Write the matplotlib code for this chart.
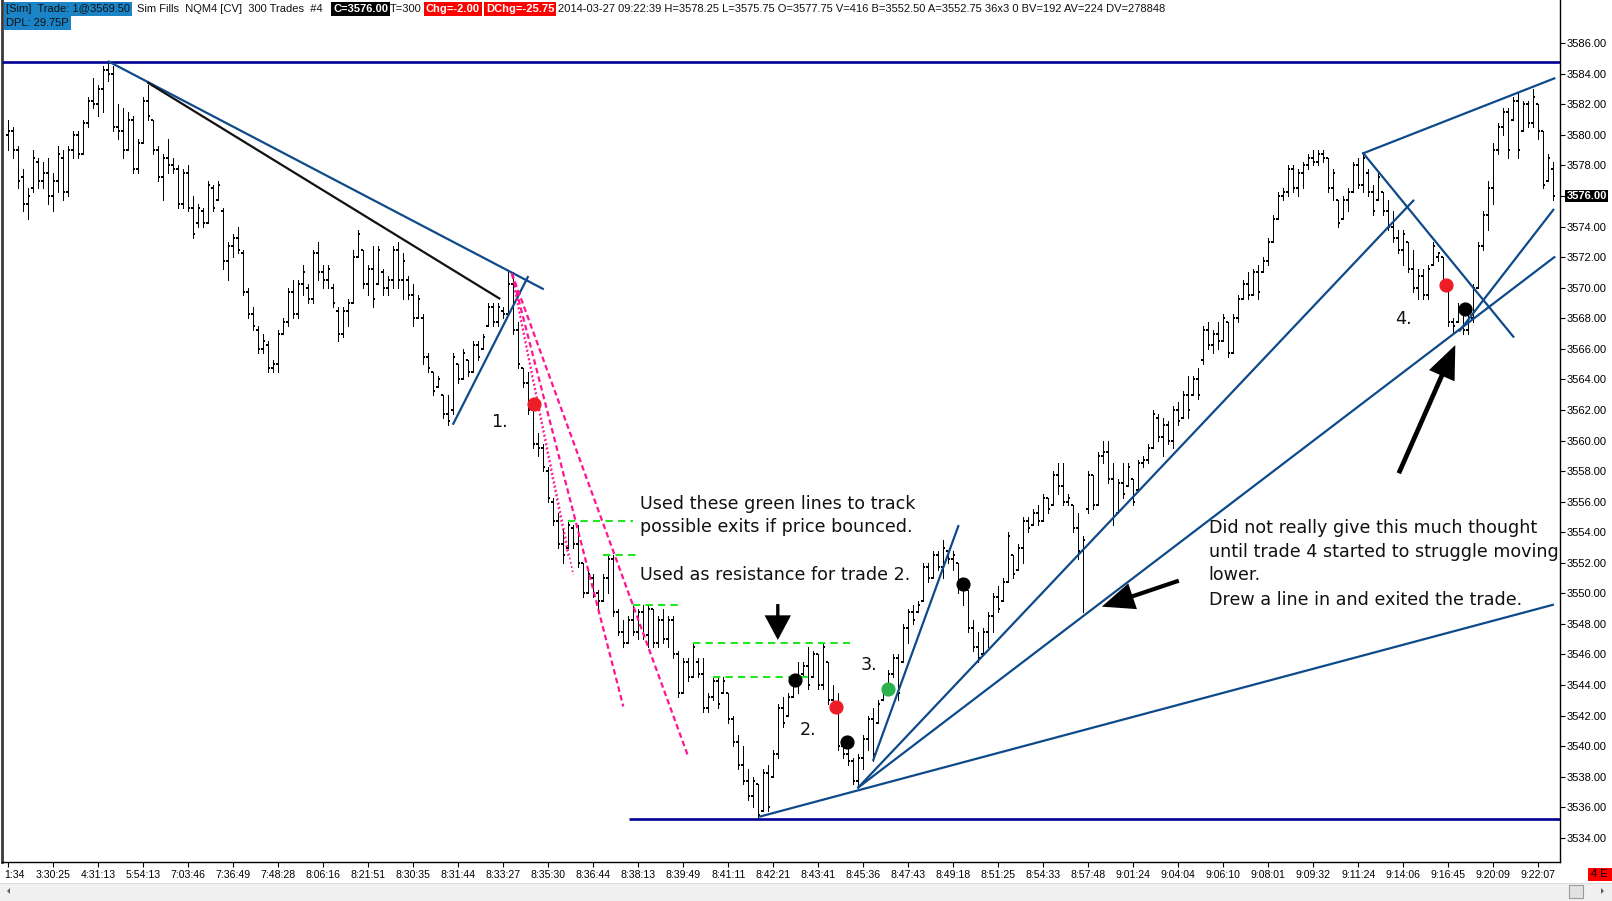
import matplotlib
matplotlib.use("Agg")
import matplotlib.pyplot as plt
from matplotlib.collections import LineCollection
from matplotlib import font_manager as fm
from matplotlib import transforms
from matplotlib.patches import Rectangle, Polygon

# ---------------- data (300-trade bars, NQM4) ----------------
highs = [
3581.0,3580.5,3579.25,3577.75,3576.5,3579.0,3578.5,3578.25,3578.5,3577.5,
3579.25,3579.0,3579.25,3580.25,3580.25,3581.0,3582.5,3583.75,3583.25,3584.5,
3584.75,3584.5,3582.0,3581.75,3581.5,3581.25,3579.75,3582.5,3583.25,3581.0,
3579.25,3578.75,3579.75,3578.5,3578.0,3577.75,3578.0,3576.0,3575.5,3575.25,
3577.0,3576.75,3577.0,3575.25,3573.0,3573.5,3574.0,3572.5,3570.0,3568.75,
3567.5,3567.0,3566.5,3565.25,3567.25,3568.0,3570.0,3570.5,3570.5,3571.5,
3570.25,3572.5,3573.0,3571.5,3571.5,3570.25,3568.75,3568.75,3569.25,3572.5,
3573.75,3572.5,3571.5,3572.75,3572.75,3571.25,3570.75,3572.75,3573.0,3572.25,
3570.75,3570.25,3569.5,3568.25,3565.75,3564.5,3564.25,3563.0,3563.0,3565.75,
3565.0,3566.0,3565.25,3566.5,3566.5,3567.0,3569.0,3569.0,3569.0,3568.75,
3571.0,3571.0,3567.75,3564.75,3564.5,3562.25,3560.5,3559.75,3558.25,3556.25,
3555.25,3554.25,3554.75,3554.5,3554.5,3552.0,3551.5,3551.25,3550.25,3551.25,
3552.5,3552.5,3549.0,3548.25,3548.5,3549.25,3549.0,3549.25,3549.25,3549.0,
3548.5,3549.0,3548.5,3548.5,3546.25,3545.75,3545.75,3546.75,3545.75,3545.75,
3543.5,3544.5,3544.5,3544.5,3543.5,3542.0,3540.75,3540.0,3538.5,3538.0,
3537.5,3538.5,3538.75,3539.75,3542.75,3543.25,3543.5,3544.75,3545.5,3545.5,
3546.5,3546.25,3546.0,3546.75,3545.5,3544.0,3543.5,3540.25,3540.0,3539.25,
3539.5,3540.75,3542.0,3542.5,3543.0,3544.0,3545.0,3546.0,3546.0,3548.0,
3549.0,3549.25,3549.5,3552.0,3552.0,3552.75,3552.75,3553.5,3552.75,3552.75,
3552.0,3551.0,3550.25,3548.25,3547.5,3547.75,3548.75,3550.0,3550.5,3551.0,
3554.0,3552.5,3553.25,3555.0,3555.0,3555.5,3555.75,3556.5,3556.25,3558.0,
3558.5,3558.5,3556.5,3555.75,3555.25,3553.75,3558.0,3557.75,3559.25,3560.0,
3560.0,3558.5,3557.5,3558.5,3558.5,3557.5,3558.75,3559.0,3559.75,3562.0,
3561.75,3561.5,3561.25,3562.25,3562.5,3563.25,3564.25,3564.25,3564.75,3567.5,
3567.75,3567.25,3567.75,3568.25,3567.75,3568.25,3569.5,3570.5,3571.0,3571.25,
3571.5,3572.0,3573.25,3574.75,3576.25,3576.5,3578.0,3578.0,3577.75,3578.25,
3578.75,3579.0,3579.0,3579.0,3578.5,3577.75,3575.75,3576.0,3576.5,3578.25,
3578.5,3578.75,3577.75,3576.75,3577.5,3576.25,3575.75,3575.0,3573.75,3573.75,
3573.0,3572.5,3571.25,3571.25,3571.5,3573.0,3572.25,3572.0,3570.0,3568.0,
3569.0,3569.0,3568.25,3570.25,3573.0,3575.0,3577.0,3579.5,3580.75,3581.75,
3581.75,3582.5,3582.75,3582.25,3582.25,3583.0,3582.0,3580.25,3578.75,3578.25]

lows = [
3579.0,3578.5,3576.5,3575.0,3574.5,3576.25,3576.5,3576.5,3575.5,3575.0,
3576.25,3575.75,3576.0,3578.5,3578.5,3578.75,3580.5,3581.75,3581.25,3581.5,
3583.5,3580.25,3579.75,3578.5,3579.0,3577.5,3577.5,3579.5,3581.0,3578.75,
3577.0,3575.75,3577.5,3577.5,3575.25,3575.25,3575.0,3573.25,3574.0,3574.0,
3574.25,3575.0,3575.75,3571.25,3570.5,3572.0,3572.25,3569.5,3568.0,3567.25,
3565.75,3565.75,3564.5,3564.5,3564.5,3567.0,3567.5,3568.0,3568.0,3569.5,
3569.0,3569.0,3570.5,3570.0,3570.0,3568.75,3566.5,3566.75,3567.5,3569.0,
3572.0,3570.0,3569.5,3568.75,3570.25,3569.5,3569.5,3570.0,3570.0,3569.25,
3569.25,3567.5,3568.0,3565.0,3564.5,3563.0,3563.5,3561.5,3561.0,3561.75,
3563.75,3564.0,3564.25,3564.5,3565.25,3566.0,3567.5,3567.5,3567.5,3568.0,
3568.25,3567.0,3564.75,3563.5,3561.75,3559.5,3559.0,3558.0,3556.0,3554.5,
3553.0,3552.0,3553.0,3553.0,3551.75,3549.75,3550.0,3549.75,3549.0,3549.5,
3550.0,3548.5,3547.25,3546.5,3546.75,3547.25,3547.0,3547.0,3546.5,3546.5,
3546.5,3546.75,3546.5,3545.75,3543.25,3543.5,3544.25,3544.5,3544.5,3542.25,
3542.25,3543.0,3542.5,3543.5,3541.5,3540.0,3538.5,3537.5,3536.5,3536.0,
3535.25,3535.75,3535.75,3538.0,3539.25,3541.25,3542.0,3543.25,3543.5,3544.5,
3543.75,3544.5,3543.75,3543.75,3542.75,3542.25,3539.75,3539.25,3538.75,3537.5,
3537.25,3538.5,3539.75,3539.0,3541.5,3543.0,3543.75,3544.5,3543.0,3545.5,
3546.75,3548.0,3548.75,3549.5,3550.75,3551.0,3551.5,3551.0,3552.0,3551.5,
3550.0,3549.25,3547.5,3546.25,3545.5,3546.0,3546.5,3547.5,3548.75,3549.5,
3550.75,3551.0,3551.5,3552.0,3554.0,3554.5,3554.5,3554.75,3555.25,3555.75,
3556.5,3555.75,3555.75,3554.0,3552.25,3548.75,3555.25,3555.5,3555.75,3558.5,
3557.25,3554.5,3555.25,3556.25,3557.0,3555.75,3556.75,3558.25,3558.5,3559.5,
3560.0,3559.0,3559.75,3559.5,3561.0,3561.5,3561.5,3563.0,3562.75,3565.0,
3566.0,3565.75,3566.0,3566.5,3565.5,3565.75,3567.75,3569.25,3569.25,3569.5,
3569.25,3571.0,3571.5,3573.0,3574.5,3575.75,3576.0,3576.25,3576.0,3576.5,
3577.75,3578.0,3578.0,3578.25,3576.25,3575.75,3574.0,3574.5,3575.0,3576.25,
3576.5,3576.25,3576.0,3574.75,3575.75,3574.75,3573.75,3573.0,3572.25,3571.5,
3571.0,3569.75,3569.25,3569.25,3569.25,3571.5,3571.75,3570.0,3567.5,3567.0,
3567.75,3567.0,3567.0,3567.75,3570.0,3572.5,3573.75,3575.5,3578.75,3580.0,
3578.5,3581.0,3578.5,3580.25,3580.5,3580.5,3579.75,3576.5,3577.0,3575.75]

opens = [
3580.0,3580.25,3579.0,3577.25,3575.5,3576.5,3578.25,3577.0,3577.5,3576.0,
3577.0,3578.5,3576.25,3579.0,3580.0,3578.75,3580.75,3582.25,3582.0,3583.0,
3584.25,3584.0,3580.5,3580.25,3579.0,3581.0,3577.75,3579.5,3582.25,3581.0,
3579.0,3577.25,3578.5,3578.0,3577.75,3575.5,3577.5,3575.25,3574.25,3575.0,
3574.25,3576.5,3575.75,3575.0,3571.75,3572.75,3573.25,3572.25,3569.75,3568.25,
3567.25,3566.0,3566.25,3564.75,3565.0,3567.0,3567.75,3569.75,3568.25,3570.25,
3570.0,3569.25,3572.25,3571.0,3570.5,3570.0,3568.5,3567.0,3568.5,3569.0,
3572.0,3572.5,3570.25,3571.25,3570.25,3571.0,3570.0,3570.5,3572.5,3570.5,
3570.5,3569.5,3568.0,3568.0,3565.5,3564.5,3563.5,3563.0,3561.75,3562.0,
3565.0,3564.0,3565.25,3564.5,3566.25,3566.0,3567.5,3568.75,3567.75,3568.5,
3568.25,3570.25,3567.25,3564.75,3563.75,3562.0,3559.75,3559.5,3558.0,3556.0,
3554.75,3553.25,3553.0,3554.25,3553.25,3552.0,3550.0,3551.0,3550.0,3549.5,
3551.0,3552.25,3548.75,3547.5,3546.75,3548.25,3547.5,3548.75,3547.25,3549.0,
3546.75,3548.25,3547.0,3548.25,3546.0,3543.5,3545.5,3544.5,3545.5,3544.75,
3542.5,3543.25,3544.25,3543.5,3543.5,3541.75,3540.25,3538.75,3537.75,3536.75,
3537.5,3535.75,3538.25,3538.0,3539.5,3542.5,3542.0,3543.25,3544.5,3544.75,
3545.25,3544.5,3546.0,3544.0,3545.5,3543.0,3542.5,3540.0,3539.5,3539.0,
3537.75,3539.25,3540.5,3541.75,3541.5,3543.0,3543.75,3544.75,3545.75,3545.5,
3547.75,3548.75,3548.75,3549.5,3551.75,3551.0,3552.5,3551.75,3552.75,3552.25,
3552.0,3550.5,3550.25,3547.75,3546.5,3546.0,3547.5,3548.5,3549.75,3549.5,
3550.75,3552.5,3551.5,3553.0,3554.75,3554.5,3555.25,3554.75,3556.25,3555.75,
3557.75,3557.0,3556.0,3555.75,3554.25,3552.75,3555.5,3557.75,3555.75,3559.0,
3559.25,3557.5,3555.25,3557.25,3557.0,3557.5,3556.75,3558.5,3558.75,3559.5,
3561.5,3560.25,3561.0,3560.0,3562.0,3561.5,3563.0,3563.0,3564.0,3565.25,
3567.25,3566.25,3567.0,3566.5,3567.75,3565.75,3568.0,3569.25,3570.25,3569.5,
3571.0,3571.0,3571.75,3573.0,3574.5,3576.0,3576.25,3577.75,3576.5,3577.5,
3578.0,3578.5,3578.25,3578.75,3578.5,3576.5,3575.75,3574.5,3575.75,3576.25,
3578.0,3576.75,3577.5,3576.25,3575.75,3576.25,3575.0,3574.0,3573.25,3572.5,
3573.0,3571.25,3570.0,3570.75,3569.5,3571.5,3572.0,3572.0,3570.0,3567.75,
3567.75,3568.75,3567.25,3568.0,3570.0,3572.75,3574.75,3576.5,3579.0,3580.5,
3581.5,3581.0,3582.25,3580.25,3582.0,3580.75,3582.0,3580.25,3577.0,3577.75]

closes = [
3580.25,3579.0,3577.0,3575.5,3576.0,3578.5,3577.0,3577.5,3576.0,3577.0,
3578.75,3576.25,3579.0,3580.0,3578.75,3580.75,3582.25,3582.0,3583.0,3584.25,
3584.0,3580.5,3580.25,3579.0,3581.0,3577.75,3579.5,3582.25,3581.25,3579.0,
3577.25,3578.5,3578.0,3577.75,3575.5,3577.5,3575.25,3573.5,3575.25,3574.25,
3576.75,3575.25,3576.75,3571.75,3572.75,3573.25,3572.5,3569.75,3568.25,3567.5,
3566.0,3566.5,3564.75,3565.0,3567.0,3567.75,3569.75,3568.25,3570.25,3571.0,
3569.25,3572.25,3571.0,3570.5,3571.25,3569.0,3567.0,3568.5,3569.0,3572.0,
3573.5,3570.25,3571.25,3569.25,3572.5,3570.0,3570.5,3572.5,3570.5,3571.75,
3569.5,3568.0,3569.25,3565.5,3564.75,3563.25,3564.0,3561.75,3561.25,3565.5,
3564.0,3565.75,3564.5,3566.25,3565.5,3566.75,3568.75,3567.75,3568.75,3568.25,
3570.25,3567.25,3565.0,3563.75,3562.0,3559.75,3559.5,3558.25,3556.25,3554.75,
3553.25,3552.5,3554.5,3553.25,3552.0,3550.0,3551.25,3550.0,3549.5,3551.0,
3552.25,3548.75,3547.5,3546.75,3548.25,3547.5,3548.75,3547.25,3549.0,3546.75,
3548.25,3547.0,3548.25,3546.0,3543.5,3545.5,3544.5,3546.5,3544.75,3542.5,
3543.25,3544.25,3542.75,3544.25,3541.75,3540.25,3538.75,3537.75,3536.75,3537.75,
3535.5,3538.25,3536.0,3539.5,3542.5,3541.5,3543.25,3544.5,3544.0,3545.25,
3544.0,3546.0,3544.0,3546.5,3543.0,3542.5,3540.0,3539.5,3539.0,3537.75,
3539.25,3540.5,3541.75,3539.5,3542.75,3543.75,3544.75,3545.75,3543.5,3547.75,
3548.75,3548.25,3549.25,3551.75,3551.0,3552.5,3551.75,3553.0,3552.25,3552.5,
3550.5,3550.75,3547.75,3546.5,3545.75,3547.5,3548.5,3549.75,3549.0,3550.75,
3553.75,3551.25,3553.0,3554.75,3554.25,3555.25,3554.75,3556.25,3555.5,3557.75,
3557.0,3556.0,3556.25,3554.25,3552.75,3553.5,3557.75,3555.75,3559.0,3559.25,
3557.5,3555.0,3557.25,3556.5,3558.25,3556.0,3558.5,3558.75,3559.5,3561.75,
3560.25,3561.0,3560.0,3562.0,3561.25,3563.0,3562.0,3564.0,3563.0,3567.25,
3566.25,3567.0,3566.5,3568.0,3565.75,3568.0,3569.25,3570.25,3569.5,3571.0,
3569.75,3571.75,3573.0,3574.5,3576.0,3576.25,3577.75,3576.5,3577.5,3578.0,
3578.5,3578.25,3578.75,3578.5,3576.5,3577.5,3574.25,3575.75,3576.25,3578.0,
3576.75,3578.5,3576.25,3575.0,3577.25,3575.0,3574.0,3573.25,3572.5,3573.5,
3571.25,3570.0,3570.75,3569.5,3571.25,3572.75,3572.25,3570.25,3567.75,3567.5,
3568.75,3567.25,3568.0,3570.0,3572.75,3574.75,3576.5,3579.0,3580.5,3581.5,
3579.0,3582.25,3579.0,3582.0,3580.75,3582.5,3580.25,3576.75,3578.5,3576.0]

time_labels = ["1:34", "3:30:25", "4:31:13", "5:54:13", "7:03:46", "7:36:49", "7:48:28",
               "8:06:16", "8:21:51", "8:30:35", "8:31:44", "8:33:27", "8:35:30", "8:36:44",
               "8:38:13", "8:39:49", "8:41:11", "8:42:21", "8:43:41", "8:45:36", "8:47:43",
               "8:49:18", "8:51:25", "8:54:33", "8:57:48", "9:01:24", "9:04:04", "9:06:10",
               "9:08:01", "9:09:32", "9:11:24", "9:14:06", "9:16:45", "9:20:09", "9:22:07"]
label_step = 9                      # one time label every 9 bars
price_ticks = list(range(3534, 3588, 2))
last_price = 3576.00

# horizontal support / resistance (price, first bar)
hlines = [(3584.75, None), (3535.25, 124.2)]
# blue trend lines: (bar0, price0, bar1, price1)
trend_blue = [
    (20.1, 3584.8, 106.9, 3569.93),
    (89.0, 3561.1, 103.9, 3570.7),
    (173.0, 3539.1, 190.0, 3554.4),
    (170.0, 3537.3, 281.0, 3575.7),
    (170.0, 3537.3, 309.2, 3572.0),
    (150.4, 3535.4, 308.9, 3549.25),
    (271.0, 3578.8, 309.2, 3583.7),
    (271.0, 3578.8, 301.0, 3566.8),
    (290.3, 3567.2, 309.0, 3575.1),
]
trend_black = [(28.0, 3583.4, 98.2, 3569.3)]
pink_dashed = [(100.7, 3570.95, 123.0, 3542.6), (100.7, 3570.95, 136.0, 3539.3)]
pink_dotted = [(100.7, 3570.95, 113.0, 3551.2), (101.3, 3569.8, 112.0, 3552.4)]
green_levels = [(112.0, 125.0, 3554.75), (119.0, 126.0, 3552.5), (125.0, 135.0, 3549.25),
                (137.0, 168.3, 3546.75), (141.0, 161.0, 3544.5)]
fills_bar = [105.2, 157.3, 165.5, 167.8, 175.9, 191.0, 287.6, 291.4]
fills_price = [3562.37, 3544.36, 3542.56, 3540.27, 3543.77, 3550.62, 3570.18, 3568.59]
fills_kind = ["red", "black", "red", "black", "green", "black", "red", "black"]
arrows = [  # tail bar, tail price, tip bar, tip price, shaft width, head length, head width
    (153.9, 3549.3, 153.9, 3546.95, 2.4, 14, 7.5),
    (234.1, 3550.83, 218.7, 3549.13, 3.0, 18, 7.5),
    (278.1, 3557.86, 289.4, 3566.25, 3.4, 18, 7.5),
]
labels_num = [("1.", 98.2, 3561.19), ("2.", 159.9, 3541.08), ("3.", 172.2, 3545.3), ("4.", 279.1, 3567.98)]
note1 = ["Used these green lines to track", "possible exits if price bounced."]
note2 = ["Used as resistance for trade 2."]
note3 = ["Did not really give this much thought", "until trade 4 started to struggle moving",
         "lower.", "Drew a line in and exited the trade."]
note1_pos = (126.4, [3555.88, 3554.33])
note2_pos = (126.4, [3551.17])
note3_pos = (240.06, [3554.26, 3552.71, 3551.17, 3549.55])

# ---------------- fonts ----------------
def have(name):
    try:
        fm.findfont(fm.FontProperties(family=name), fallback_to_default=False)
        return True
    except Exception:
        return False

UI = "Liberation Sans" if have("Liberation Sans") else "DejaVu Sans"
NOTE = "DejaVu Sans"

W, H = 1612, 901
fig = plt.figure(figsize=(W / 100, H / 100), dpi=100)
fig.patch.set_facecolor("white")

ax_left, ax_right, ax_bottom_px = 2, 1560, 862
ax = fig.add_axes([ax_left / W, (H - ax_bottom_px) / H, (ax_right - ax_left) / W, ax_bottom_px / H])
ax.set_facecolor("white")
n = len(highs)
ax.set_xlim(-1.26, 310.34)
ax.set_ylim(3532.42, 3588.83)

# ---------------- OHLC bars ----------------
idx = list(range(n))
vert = [[(i, lows[i]), (i, highs[i])] for i in idx]
oticks = [[(i - 0.42, opens[i]), (i, opens[i])] for i in idx]
cticks = [[(i, closes[i]), (i + 0.42, closes[i])] for i in idx]
ax.add_collection(LineCollection(vert, colors="black", linewidths=0.72, zorder=2, antialiased=False))
ax.add_collection(LineCollection(oticks + cticks, colors="black", linewidths=1.3, zorder=2,
                                 antialiased=False))

# ---------------- drawings ----------------
navy = "#000096"
blue = "#0E4A8A"
for price, start in hlines:
    x0 = -1.26 if start is None else start
    ax.plot([x0, 310.34], [price, price], color=navy, lw=1.9, zorder=3, solid_capstyle="butt")
for b0, p0, b1, p1 in trend_blue:
    ax.plot([b0, b1], [p0, p1], color=blue, lw=1.6, zorder=3)
for b0, p0, b1, p1 in trend_black:
    ax.plot([b0, b1], [p0, p1], color="#111111", lw=1.6, zorder=3)
for b0, p0, b1, p1 in pink_dashed:
    ax.plot([b0, b1], [p0, p1], color="#FF1493", lw=1.6, ls=(0, (2.5, 1.5)), zorder=3)
for b0, p0, b1, p1 in pink_dotted:
    ax.plot([b0, b1], [p0, p1], color="#FF1493", lw=1.2, ls=(0, (1, 1.6)), zorder=3)
for b0, b1, p in green_levels:
    ax.plot([b0, b1], [p, p], color="#22E622", lw=1.5, ls=(0, (3.5, 2.5)), zorder=3)

colmap = {"red": "#EE1C25", "black": "#000000", "green": "#2BB24C"}
for b, p, k in zip(fills_bar, fills_price, fills_kind):
    ax.plot([b], [p], "o", ms=9.2, color=colmap[k], mec=colmap[k], zorder=5)

for tb, tp, hb, hp, w, hl, hw in arrows:
    ax.annotate("", xy=(hb, hp), xytext=(tb, tp),
                arrowprops=dict(arrowstyle="-|>,head_length=%.2f,head_width=%.2f" % (hl / 10, hw / 10),
                                mutation_scale=10, lw=w, color="black", shrinkA=0, shrinkB=0,
                                joinstyle="miter", capstyle="butt"), zorder=6)

for t, b, p in labels_num:
    ax.text(b, p, t, fontsize=12.6, family=NOTE, ha="center", va="center", color="#111111", zorder=6)
for lines, (b, ps) in ((note1, note1_pos), (note2, note2_pos), (note3, note3_pos)):
    for t, p in zip(lines, ps):
        ax.text(b, p, t, fontsize=12.6, family=NOTE, ha="left", va="center", color="#111111", zorder=6)

# ---------------- axes styling ----------------
ax.spines["top"].set_visible(False)
ax.spines["left"].set_color("#3a3a3a")
ax.spines["left"].set_linewidth(2.0)
ax.spines["right"].set_color("black")
ax.spines["right"].set_linewidth(1.0)
ax.spines["bottom"].set_color("black")
ax.spines["bottom"].set_linewidth(1.0)

ax.yaxis.tick_right()
ax.set_yticks(price_ticks)
ax.set_yticklabels(["%.2f" % v for v in price_ticks])
ax.tick_params(axis="y", direction="out", length=3.5, width=0.8, pad=1.5, labelsize=8,
               colors="black")
for lab in ax.get_yticklabels():
    lab.set_family(UI)

xt = [label_step * k for k in range(len(time_labels))]
ax.set_xticks(xt)
ax.set_xticklabels(time_labels)
ax.tick_params(axis="x", direction="out", length=3.5, width=0.8, pad=2.5, labelsize=7.6,
               colors="black")
xlabs = ax.get_xticklabels()
for lab in xlabs:
    lab.set_family(UI)
# first label is the clipped tail of an earlier time stamp; keep it inside the figure
xlabs[0].set_ha("left")
xlabs[0].set_transform(xlabs[0].get_transform() + transforms.ScaledTranslation(-4 / 100, 0, fig.dpi_scale_trans))

# current price box on the price scale
trans = transforms.blended_transform_factory(ax.transAxes, ax.transData)
ax.text(1.0 + 6.5 / (ax_right - ax_left), last_price, "%.2f" % last_price, transform=trans,
        ha="left", va="center", fontsize=8, family=UI, fontweight="bold", color="white",
        bbox=dict(boxstyle="square,pad=0.12", fc="black", ec="none"), zorder=10, clip_on=False)

# ---------------- overlay (header, scrollbar) in pixel coords ----------------
ov = fig.add_axes([0, 0, 1, 1], zorder=20)
ov.set_xlim(0, W)
ov.set_ylim(H, 0)
ov.axis("off")
ov.patch.set_alpha(0)

hdr_blue = "#1A84C7"
def hbox(x, y, txt, fg, bg=None, bold=False):
    kw = dict(ha="left", va="center", fontsize=8, family=UI, color=fg)
    if bold:
        kw["fontweight"] = "bold"
    if bg is not None:
        kw["bbox"] = dict(boxstyle="square,pad=0.18", fc=bg, ec="none")
    ov.text(x, y, txt, **kw)

hbox(6, 8.5, "[Sim]  Trade: 1@3569.50", "#111111", hdr_blue)
hbox(137, 8.5, "Sim Fills  NQM4 [CV]  300 Trades  #4", "#111111")
hbox(333, 8.5, "C=3576.00", "white", "black", bold=True)
hbox(390, 8.5, "T=300", "#111111")
hbox(426, 8.5, "Chg=-2.00", "white", "#FF0000", bold=True)
hbox(486, 8.5, "DChg=-25.75", "white", "#FF0000", bold=True)
hbox(558, 8.5, "2014-03-27 09:22:39 H=3578.25 L=3575.75 O=3577.75 V=416 B=3552.50 "
               "A=3552.75 36x3 0 BV=192 AV=224 DV=278848", "#111111")
hbox(6, 23.2, "DPL: 29.75P", "#111111", hdr_blue)

# scrollbar strip
ov.add_patch(Rectangle((0, 883), W, 18, fc="#F0F0F0", ec="none"))
ov.plot([0, W], [883, 883], color="#DCDCDC", lw=0.8)
ov.add_patch(Polygon([(7, 891), (10, 888), (10, 894)], closed=True, fc="#606060", ec="none"))
ov.add_patch(Polygon([(1604, 891), (1601, 888), (1601, 894)], closed=True, fc="#606060", ec="none"))
ov.add_patch(Rectangle((1569, 884.5), 14, 13, fc="#E2E2E2", ec="#9A9A9A", lw=0.8))
ov.add_patch(Rectangle((1588, 868), 23.5, 12.5, fc="#FF0000", ec="none"))
ov.text(1599.7, 874.3, "4 E", ha="center", va="center", fontsize=8, family=UI, color="black")

fig.savefig("out.png", dpi=100, facecolor="white")
